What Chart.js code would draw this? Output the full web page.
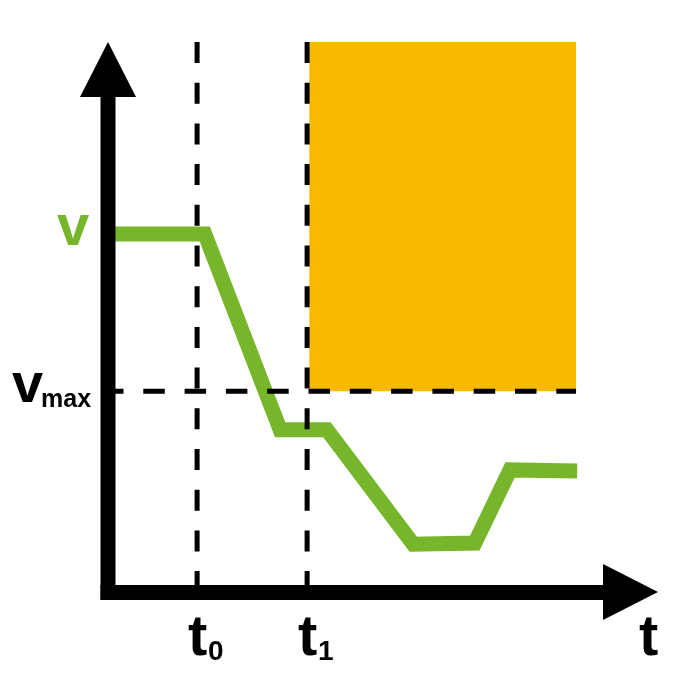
<!DOCTYPE html>
<html>
<head>
<meta charset="utf-8">
<script src="https://cdn.jsdelivr.net/npm/chart.js@4"></script>
<style>
  html, body { margin: 0; padding: 0; background: #fff; }
  #chart { display: block; }
</style>
</head>
<body>
<canvas id="chart" width="700" height="681"></canvas>
<script>
// ==================== DATA ====================
// speed profile (time units 0..100, speed units 0..100)
const speedTime = [1.3, 17.6, 31.3, 39.8, 55.5, 66.7, 73.1, 85.3];
const speedValue = [65.1, 65.1, 29.5, 29.5, 8.7, 8.9, 22.2, 22.0];

// marked instants on the time axis
const markTimes = [16.2, 36.2];
const markSubs = ['0', '1'];

// speed levels
const vLevel = 65.1;
const vMax = 36.5;

// forbidden zone (after t1, above vmax)
const zoneStart = 36.6;
const zoneEnd = 85.1;
const zoneTop = 100;

const GREEN = '#77B52A';
const ORANGE = '#F8B900';
const FONT = '"Liberation Sans", Arial, sans-serif';

// ==================== DRAWING PLUGIN ====================
const sketchPlugin = {
    id: 'sketch',
    beforeDatasetsDraw(chart) {
        const { ctx, scales: { x, y } } = chart;
        ctx.save();
        ctx.fillStyle = ORANGE;
        const l = x.getPixelForValue(zoneStart);
        const r = x.getPixelForValue(zoneEnd);
        const t = y.getPixelForValue(zoneTop);
        const b = y.getPixelForValue(vMax);
        ctx.fillRect(l, t, r - l, b - t);
        ctx.restore();
    },
    afterDatasetsDraw(chart) {
        const { ctx, chartArea, scales: { x, y } } = chart;
        const x0 = x.getPixelForValue(0);
        const y0 = y.getPixelForValue(0);
        const top = chartArea.top;
        const right = chartArea.right;
        ctx.save();

        // dashed guides
        ctx.strokeStyle = '#000';
        ctx.lineWidth = 5;
        ctx.lineCap = 'butt';
        ctx.setLineDash([21, 19.7]);
        markTimes.forEach(tm => {
            const px = x.getPixelForValue(tm);
            ctx.beginPath();
            ctx.moveTo(px, top);
            ctx.lineTo(px, y0 - 7);
            ctx.stroke();
        });
        ctx.setLineDash([21.5, 19.8]);
        const vy = y.getPixelForValue(vMax);
        ctx.beginPath();
        ctx.moveTo(x0 - 6, vy);
        ctx.lineTo(x.getPixelForValue(zoneEnd), vy);
        ctx.stroke();
        ctx.setLineDash([]);

        // axes with arrow heads
        ctx.fillStyle = '#000';
        ctx.fillRect(x0 - 7.5, top + 50, 15, y0 + 8 - (top + 50));
        ctx.beginPath();
        ctx.moveTo(x0 - 28, top + 55);
        ctx.lineTo(x0 + 28, top + 55);
        ctx.lineTo(x0, top);
        ctx.closePath();
        ctx.fill();

        ctx.fillRect(x0 - 7.5, y0 - 7, right - 50 - (x0 - 7.5), 15);
        ctx.beginPath();
        ctx.moveTo(right - 55, y0 - 28);
        ctx.lineTo(right - 55, y0 + 28);
        ctx.lineTo(right, y0);
        ctx.closePath();
        ctx.fill();

        // small ticks at t0, t1
        markTimes.forEach(tm => {
            const px = x.getPixelForValue(tm);
            ctx.fillRect(px - 2, y0 - 20, 4, 13);
        });

        // labels
        ctx.textBaseline = 'alphabetic';
        ctx.textAlign = 'left';
        ctx.fillStyle = GREEN;
        ctx.font = 'bold 58px ' + FONT;
        ctx.fillText('v', x0 - 51, y.getPixelForValue(vLevel) + 11);

        ctx.fillStyle = '#000';
        ctx.font = 'bold 56px ' + FONT;
        ctx.fillText('v', x0 - 96, vy + 11);
        ctx.font = 'bold 25px ' + FONT;
        ctx.fillText('max', x0 - 67, vy + 16);

        markTimes.forEach((tm, i) => {
            const px = x.getPixelForValue(tm);
            ctx.font = 'bold 58px ' + FONT;
            ctx.fillText('t', px - 9, y0 + 63);
            ctx.font = 'bold 28px ' + FONT;
            ctx.fillText(markSubs[i], px + 11, y0 + 68);
        });

        ctx.font = 'bold 58px ' + FONT;
        ctx.fillText('t', right - 19, y0 + 63);

        ctx.restore();
    }
};

// ==================== CHART ====================
const chart = new Chart(document.getElementById('chart'), {
    type: 'scatter',
    data: {
        datasets: [{
            label: 'v',
            data: speedTime.map((t, i) => ({ x: t, y: speedValue[i] })),
            showLine: true,
            borderColor: GREEN,
            borderWidth: 15,
            borderJoinStyle: 'miter',
            borderCapStyle: 'butt',
            pointRadius: 0,
            tension: 0,
            clip: false
        }]
    },
    options: {
        responsive: false,
        animation: false,
        devicePixelRatio: 1,
        layout: { padding: { left: 108, right: 42, top: 42, bottom: 89 } },
        plugins: { legend: { display: false }, tooltip: { enabled: false } },
        scales: {
            x: { type: 'linear', min: 0, max: 100, display: false },
            y: { type: 'linear', min: 0, max: 100, display: false }
        }
    },
    plugins: [sketchPlugin]
});
</script>
</body>
</html>
